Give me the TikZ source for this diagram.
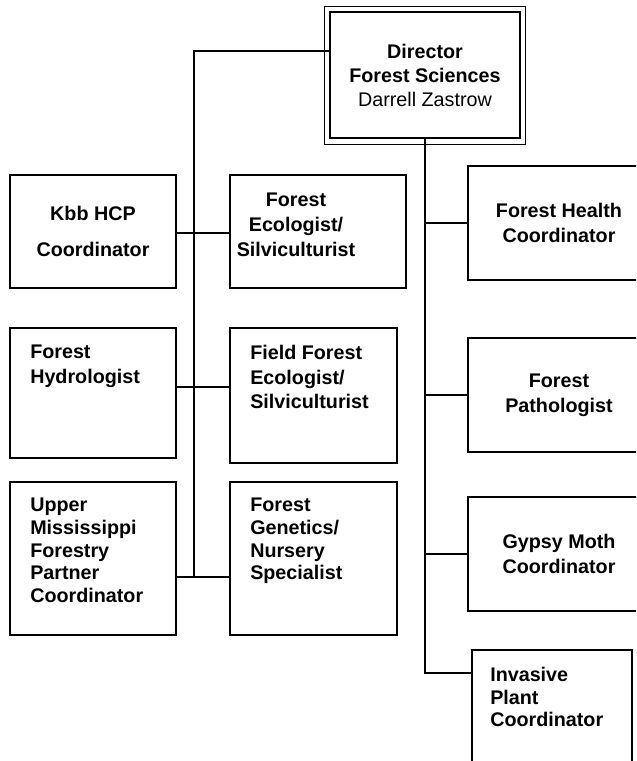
\documentclass[tikz,border=0pt]{standalone}
\usepackage{fontspec}
\setmainfont{Liberation Sans}

\begin{document}
\begin{tikzpicture}[x=0.75pt, y=-0.75pt,
  lbl/.style={inner sep=0pt, font=\bfseries\fontsize{14.8}{18.5}\selectfont},
  tight/.style={font=\bfseries\fontsize{14.8}{17}\selectfont},
  box/.style={lbl, draw, line width=1.2pt, align=center},
  boxsize/.style 2 args={minimum width=#1*0.75pt, minimum height=#2*0.75pt},
  link/.style={line width=1pt}]
  \useasboundingbox (0,0) rectangle (636,761);
  \clip (0,0) rectangle (636,761);

  % director
  \node[box, line width=1.5pt, boxsize={190}{126}, font=\bfseries\fontsize{14.8}{18}\selectfont] (dir) at (425,75)
    {Director\\Forest Sciences\\\mdseries Darrell Zastrow};
  \draw[line width=0.75pt] ([shift={(-5,-5)}]dir.north west) rectangle ([shift={(4,5)}]dir.south east);

  % left column
  \node[box, boxsize={166}{113}] (kbb) at (93,231.5) {Kbb HCP\\[9pt]Coordinator};
  \node[box, boxsize={176}{113}] (eco) at (318,231.5) {};
  \node[lbl, anchor=north, align=center] (ecot) at (296,193) {Forest\\Ecologist/\\Silviculturist};

  \node[box, boxsize={166}{130}] (hyd) at (93,393) {};
  \node[lbl, anchor=north west, align=left] (hydt) at (30,345) {Forest\\Hydrologist};
  \node[box, boxsize={167}{135}] (fld) at (313.5,395.5) {};
  \node[lbl, anchor=north west, align=left] (fldt) at (250,345) {Field Forest\\Ecologist/\\Silviculturist};

  \node[box, boxsize={166}{153}] (ump) at (93,558.5) {};
  \node[lbl, tight, anchor=north west, align=left] (umpt) at (30,498)
    {Upper\\Mississippi\\Forestry\\Partner\\Coordinator};
  \node[box, boxsize={167}{153}] (gen) at (313.5,558.5) {};
  \node[lbl, tight, anchor=north west, align=left] (gent) at (250,498)
    {Forest\\Genetics/\\Nursery\\Specialist};

  % right column
  \node[box, boxsize={182}{114}] (hlth) at (559,223) {Forest Health\\Coordinator};
  \node[box, boxsize={182}{114}] (path) at (559,395) {Forest\\Pathologist};
  \node[box, boxsize={182}{114}] (moth) at (559,554) {Gypsy Moth\\Coordinator};
  \node[box, boxsize={160}{140}] (inv) at (552,720) {};
  \node[lbl, tight, anchor=north west, align=left] (invt) at (490,667)
    {Invasive\\Plant\\Coordinator};

  % links
  \coordinate (ltop) at (194,51);
  \coordinate (l1) at (194,233);
  \coordinate (l2) at (194,387);
  \coordinate (l3) at (194,577);
  \coordinate (r4) at (425,673);

  \draw[link] (dir.west |- ltop) -- (ltop) -- (l3);
  \draw[link] (kbb.east |- l1) -- (eco.west |- l1);
  \draw[link] (hyd.east |- l2) -- (fld.west |- l2);
  \draw[link] (ump.east |- l3) -- (gen.west |- l3);

  \draw[link] (dir.south) -- (r4) -- (inv.west |- r4);
  \draw[link] (dir.south |- hlth.west) -- (hlth.west);
  \draw[link] (dir.south |- path.west) -- (path.west);
  \draw[link] (dir.south |- moth.west) -- (moth.west);
\end{tikzpicture}
\end{document}
